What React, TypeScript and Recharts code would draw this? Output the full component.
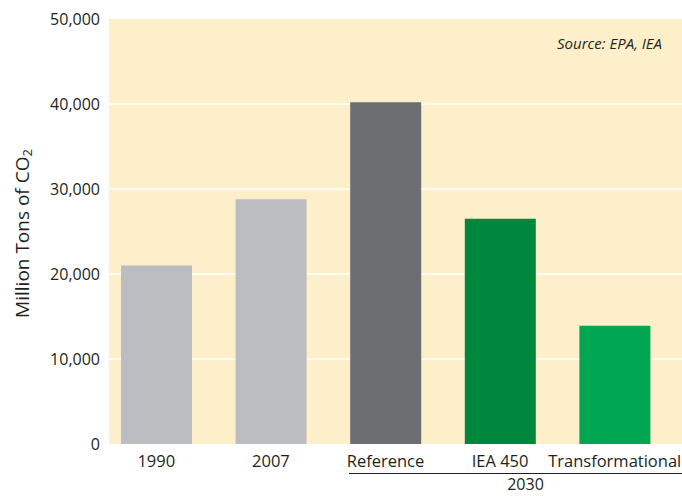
import { BarChart, Bar, XAxis, YAxis, CartesianGrid, Cell } from "recharts"

const categories = ["1990", "2007", "Reference", "IEA 450", "Transformational"]
const emissions = [21000, 28800, 40200, 26500, 13900]
const barColors = ["#bcbdc0", "#bcbdc0", "#6d6e71", "#00873e", "#00a651"]
const yTicks = [0, 10000, 20000, 30000, 40000, 50000]
const groupLabel = "2030"
const sourceNote = "Source: EPA, IEA"

const data = categories.map((name, i) => ({ name, value: emissions[i] }))

const FONT = "'Open Sans', sans-serif"
const INK = "#231f20"

function YLabel({ viewBox }: any) {
  const cx = 22
  const cy = viewBox ? viewBox.y + viewBox.height / 2 + 2 : 232
  return (
    <text
      x={cx}
      y={cy}
      transform={`rotate(-90 ${cx} ${cy})`}
      textAnchor="middle"
      dominantBaseline="central"
      fill={INK}
      fontSize={19}
      fontFamily={FONT}
    >
      Million Tons of CO
      <tspan fontSize={13} dy={5}>2</tspan>
    </text>
  )
}

export default function App() {
  return (
    <div style={{ position: "absolute", left: 0, top: 0, width: 682, height: 496, background: "#fff" }}>
      <BarChart
        width={682}
        height={496}
        data={data}
        margin={{ top: 19, right: 0, bottom: 0, left: 0 }}
        barSize={71}
      >
        <CartesianGrid horizontal vertical={false} fill="#fdefc9" stroke="#ffffff" strokeWidth={1.5} horizontalValues={[10000, 20000, 30000, 40000]} />
        <XAxis
          dataKey="name"
          height={52}
          padding={{ left: -10, right: 10 }}
          axisLine={false}
          tickLine={false}
          tickSize={0}
          tickMargin={11}
          interval={0}
          tick={{ fill: INK, fontSize: 16.5, fontFamily: FONT }}
        />
        <YAxis
          width={109}
          domain={[0, 50000]}
          ticks={yTicks}
          axisLine={false}
          tickLine={false}
          tickSize={0}
          tickMargin={9}
          tickFormatter={(v: number) => v.toLocaleString("en-US")}
          tick={{ fill: INK, fontSize: 16, fontFamily: FONT }}
          label={<YLabel />}
        />
        <Bar dataKey="value" isAnimationActive={false}>
          {data.map((_, i) => (
            <Cell key={i} fill={barColors[i]} />
          ))}
        </Bar>
      </BarChart>
      <div
        style={{
          position: "absolute",
          right: 20,
          top: 33,
          fontFamily: FONT,
          fontStyle: "italic",
          fontSize: 15,
          color: INK,
          lineHeight: "20px",
        }}
      >
        {sourceNote}
      </div>
      <div
        style={{
          position: "absolute",
          left: 349,
          top: 473,
          width: 333,
          borderTop: "1.5px solid #231f20",
          textAlign: "center",
          fontFamily: FONT,
          fontSize: 16,
          color: INK,
          lineHeight: "18px",
          paddingTop: 1,
          paddingLeft: 20,
          boxSizing: "border-box",
        }}
      >
        {groupLabel}
      </div>
    </div>
  )
}
